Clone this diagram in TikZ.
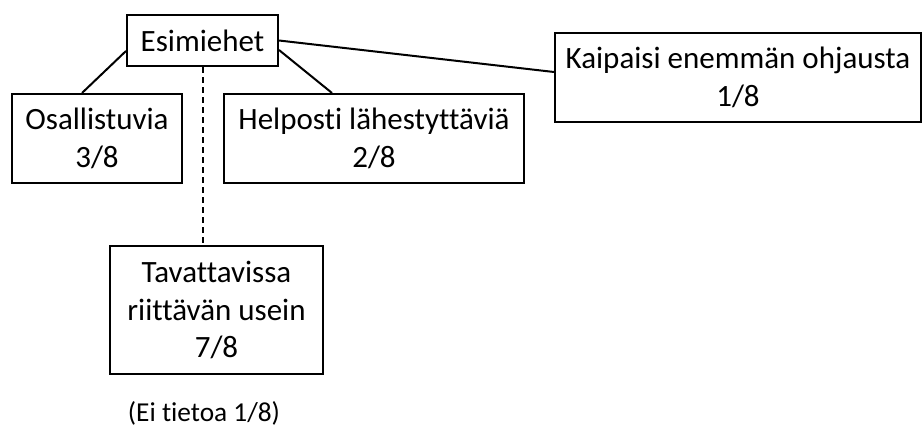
\documentclass[tikz,border=0pt]{standalone}
\usepackage{fontspec}
\setmainfont{Carlito}[Ligatures=NoCommon]
\begin{document}
\begin{tikzpicture}[x=0.75pt,y=-0.75pt,
  box/.style={draw,line width=1.5pt,inner sep=0pt,align=center,
    font=\fontsize{23.25pt}{28.1pt}\selectfont},
  link/.style={line width=1.5pt},
  dashlink/.style={line width=1.5pt,dash pattern=on 4.5pt off 3pt},
  note/.style={inner sep=0pt,font=\fontsize{20.5pt}{25pt}\selectfont}]
\useasboundingbox (0,0) rectangle (923,428);

% boxes
\node[box,minimum width=113.25pt,minimum height=38.25pt] (esim) at (202.5,40.5) {Esimiehet};
\node[box,minimum width=127.5pt,minimum height=66.75pt] (osal) at (97,138.5) {Osallistuvia\\3/8};
\node[box,minimum width=225pt,minimum height=66.75pt] (help) at (374,138.5) {Helposti lähestyttäviä\\2/8};
\node[box,minimum width=274.5pt,minimum height=66.75pt] (kaip) at (738,77.5) {Kaipaisi enemmän ohjausta\\1/8};
\node[box,minimum width=159.75pt,minimum height=96pt] (tava) at (216.5,310) {Tavattavissa\\riittävän usein\\7/8};
\node[note] (eitie) at (204,413) {(Ei tietoa 1/8)};

% connectors
\draw[link] ([yshift=-7.875pt]esim.west) -- ([xshift=-11.25pt]osal.north);
\draw[link] ([yshift=-7.125pt]esim.east) -- ([xshift=-31.5pt]help.north);
\draw[link] (esim.east) -- ([yshift=4.125pt]kaip.west);
\draw[dashlink] (esim.south) -- (esim.south |- tava.north);
\end{tikzpicture}
\end{document}
